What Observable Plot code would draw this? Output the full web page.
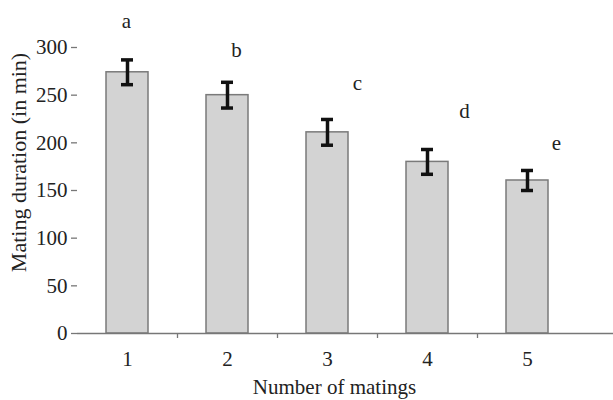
<!DOCTYPE html>
<html>
<head>
<meta charset="utf-8">
<script src="https://cdn.jsdelivr.net/npm/d3@7"></script>
<script src="https://cdn.jsdelivr.net/npm/@observablehq/plot@0.6"></script>
<style>
  html, body { margin: 0; padding: 0; background: #fff; }
  #chart svg { display: block; }
</style>
</head>
<body>
<div id="chart"></div>
<script>
const matings = ["1", "2", "3", "4", "5"];
const duration = [274, 250, 211, 180, 160.5];
const sem = [13, 13.5, 13.5, 13, 10.5];
const letters = ["a", "b", "c", "d", "e"];
const letterY = [328, 297, 263, 233, 200];
const yTicks = [0, 50, 100, 150, 200, 250, 300];

const data = matings.map((m, i) => ({
  n: m, v: duration[i], lo: duration[i] - sem[i], hi: duration[i] + sem[i],
  letter: letters[i], ly: letterY[i]
}));

const letterDx = [-1, 9, 30, 37, 29];
const font = "'Liberation Serif', 'Times New Roman', serif";

const chart = Plot.plot({
  width: 613,
  height: 400,
  marginTop: 47,
  marginBottom: 67,
  marginLeft: 77,
  marginRight: 0,
  style: { fontFamily: font, fontSize: "21px", color: "#222", background: "#fff", overflow: "visible" },
  x: { domain: matings, paddingInner: 0.58, paddingOuter: 0.29, insetRight: 36, label: null },
  y: { domain: [0, 300], label: null },
  marks: [
    Plot.barY(data, { x: "n", y: "v", fill: "#d3d3d3", stroke: "#7a7a7a", strokeWidth: 1.5 }),
    Plot.ruleX(data, { x: "n", y1: "lo", y2: "hi", stroke: "#111", strokeWidth: 3.5 }),
    Plot.tickY(data, { x: "n", y: "lo", stroke: "#111", strokeWidth: 3.5, insetLeft: 15, insetRight: 15 }),
    Plot.tickY(data, { x: "n", y: "hi", stroke: "#111", strokeWidth: 3.5, insetLeft: 15, insetRight: 15 }),
    ...data.map((d, i) => Plot.text([d], { x: "n", y: "ly", text: "letter", dx: letterDx[i], lineAnchor: "middle", fontSize: 21, fill: "#222" })),
    Plot.axisY({ ticks: yTicks, tickSize: 6, tickPadding: 4, stroke: "#777", strokeWidth: 1.3, fontSize: 21, fill: "#222", label: null }),
    Plot.axisX({ tickSize: 0, tickPadding: 18, fontSize: 21, fill: "#222", label: null }),
    Plot.axisX(matings.slice(1), { tickSize: 5, dx: -50, text: null, stroke: "#777", strokeWidth: 1.3, label: null }),
    Plot.ruleY([0], { stroke: "#777", strokeWidth: 1.3 }),
    Plot.text(["Number of matings"], { frameAnchor: "bottom", dx: -11, dy: 54, fontSize: 21, fill: "#222", lineAnchor: "middle" }),
    Plot.text(["Mating duration (in min)"], { frameAnchor: "left", textAnchor: "middle", rotate: -90, dx: -59, dy: -28, fontSize: 22, fill: "#222", lineAnchor: "middle" })
  ]
});
document.getElementById("chart").appendChild(chart);
</script>
</body>
</html>
